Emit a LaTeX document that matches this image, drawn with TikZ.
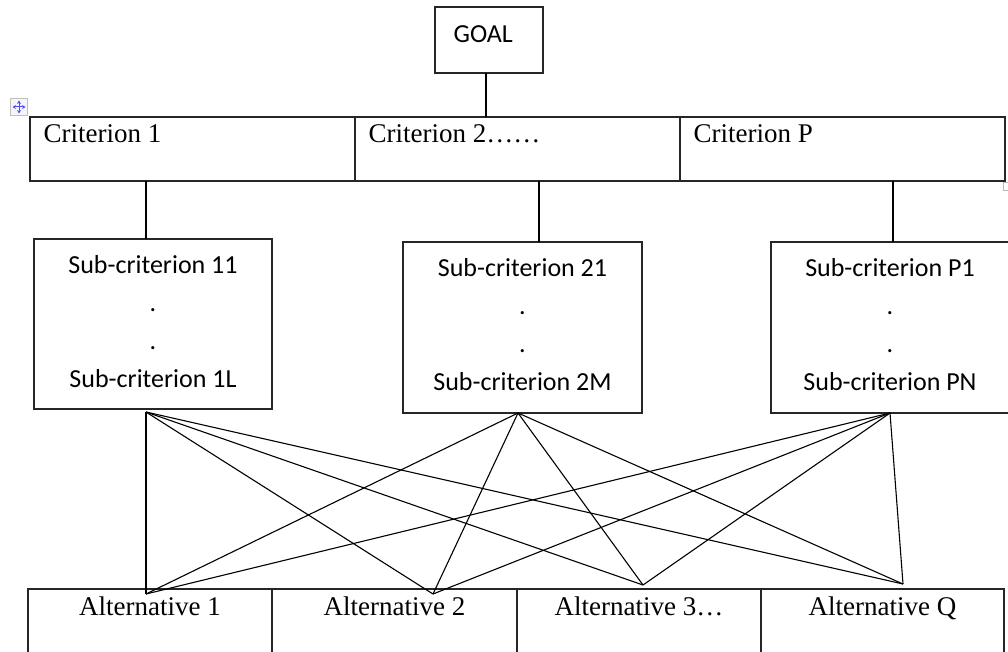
\documentclass[tikz,border=0pt]{standalone}
\usepackage{fontspec}
\newfontfamily\wordserif{Liberation Serif}
\newfontfamily\wordsans{Carlito}
\usetikzlibrary{arrows.meta}

\begin{document}
\begin{tikzpicture}[x=1pt, y=-1pt, line width=1.2pt,
  cell/.style={draw=black!85, line width=1.4pt, minimum height=64, anchor=north west, inner sep=0, outer sep=0},
  subbox/.style={draw=black!85, line width=1.3pt, anchor=north west, inner sep=0, outer sep=0},
  serif text/.style={font=\wordserif\fontsize{27}{32}\selectfont, inner sep=0, anchor=base west},
  subtext/.style={font=\wordsans\fontsize{26}{38}\selectfont, align=center, inner sep=0, anchor=north},
  handle arrow/.style={blue!70, line width=1pt, {Stealth[length=3.5pt, width=4pt]}-{Stealth[length=3.5pt, width=4pt]}}]

\clip (0,0) rectangle (1008,652);

\node[subbox, minimum width=108, minimum height=66] (goal) at (435,7) {};
\node[font=\wordsans\fontsize{26}{31}\selectfont, inner sep=0, anchor=base west] (goaltxt)
  at ([shift={(18,36)}]goal.north west) {GOAL};

\node[cell, minimum width=325] (crit1) at (30,117) {};
\node[cell, minimum width=325] (crit2) at (crit1.north east) {};
\node[cell, minimum width=325] (crit3) at (crit2.north east) {};
\node[serif text] (crit1txt) at ([shift={(13,26)}]crit1.north west) {Criterion 1};
\node[serif text] (crit2txt) at ([shift={(13,26)}]crit2.north west) {Criterion 2……};
\node[serif text] (crit3txt) at ([shift={(13,26)}]crit3.north west) {Criterion P};

\node[draw=gray!50, fill=gray!8, line width=0.8pt, minimum size=17, inner sep=0] (mover) at (19,107) {};
\draw[handle arrow] ([xshift=-6.5pt]mover.center) -- ([xshift=6.5pt]mover.center);
\draw[handle arrow] ([yshift=-6.5pt]mover.center) -- ([yshift=6.5pt]mover.center);
\node[draw=gray!55, line width=0.8pt, minimum width=7, minimum height=8, inner sep=0, anchor=north west] (resizer) at (1003,182) {};

\draw ([xshift=-3pt]goal.south) -- ([xshift=-3pt]goal.south |- crit2.north);

\node[subbox, minimum width=238, minimum height=170] (sub1) at (34,239) {};
\node[subbox, minimum width=239, minimum height=171] (sub2) at (403,242) {};
\node[subbox, minimum width=238, minimum height=171] (sub3) at (771,242) {};
\node[subtext] (sub1txt) at ([yshift=-16pt]sub1.north) {Sub-criterion 11\\.\\.\\Sub-criterion 1L};
\node[subtext] (sub2txt) at ([yshift=-16pt]sub2.north) {Sub-criterion 21\\.\\.\\Sub-criterion 2M};
\node[subtext] (sub3txt) at ([yshift=-16pt]sub3.north) {Sub-criterion P1\\.\\.\\Sub-criterion PN};

\draw ([xshift=-7pt]sub1.north) -- ([xshift=-7pt]sub1.north |- crit1.south);
\draw ([xshift=16.5pt]sub2.north) -- ([xshift=16.5pt]sub2.north |- crit2.south);
\draw ([xshift=3pt]sub3.north) -- ([xshift=3pt]sub3.north |- crit3.south);

\node[cell, minimum width=244, minimum height=80] (alt1) at (28,589) {};
\node[cell, minimum width=245, minimum height=80] (alt2) at (alt1.north east) {};
\node[cell, minimum width=244, minimum height=80] (alt3) at (alt2.north east) {};
\node[cell, minimum width=243, minimum height=80] (alt4) at (alt3.north east) {};
\node[serif text, anchor=base] (alt1txt) at ([yshift=-26pt]alt1.north) {Alternative 1};
\node[serif text, anchor=base] (alt2txt) at ([yshift=-26pt]alt2.north) {Alternative 2};
\node[serif text, anchor=base] (alt3txt) at ([yshift=-26pt]alt3.north) {Alternative 3…};
\node[serif text, anchor=base] (alt4txt) at ([yshift=-26pt]alt4.north) {Alternative Q};

\coordinate (p1) at ([xshift=-7pt, yshift=-3pt]sub1.south);
\coordinate (p2) at ([xshift=-4.5pt]sub2.south);
\coordinate (p3) at (sub3.south);
\coordinate (q1) at ([xshift=-4pt, yshift=-5pt]alt1.north);
\coordinate (q2) at ([xshift=38.5pt, yshift=-5pt]alt2.north);
\coordinate (q3) at ([xshift=4pt, yshift=4pt]alt3.north);
\coordinate (q4) at ([xshift=20.5pt, yshift=5pt]alt4.north);

\foreach \s in {1,2,3}{
\foreach \a in {1,...,4}{
\draw[line width=1.1pt] (p\s) -- (q\a);
}}

\end{tikzpicture}
\end{document}
